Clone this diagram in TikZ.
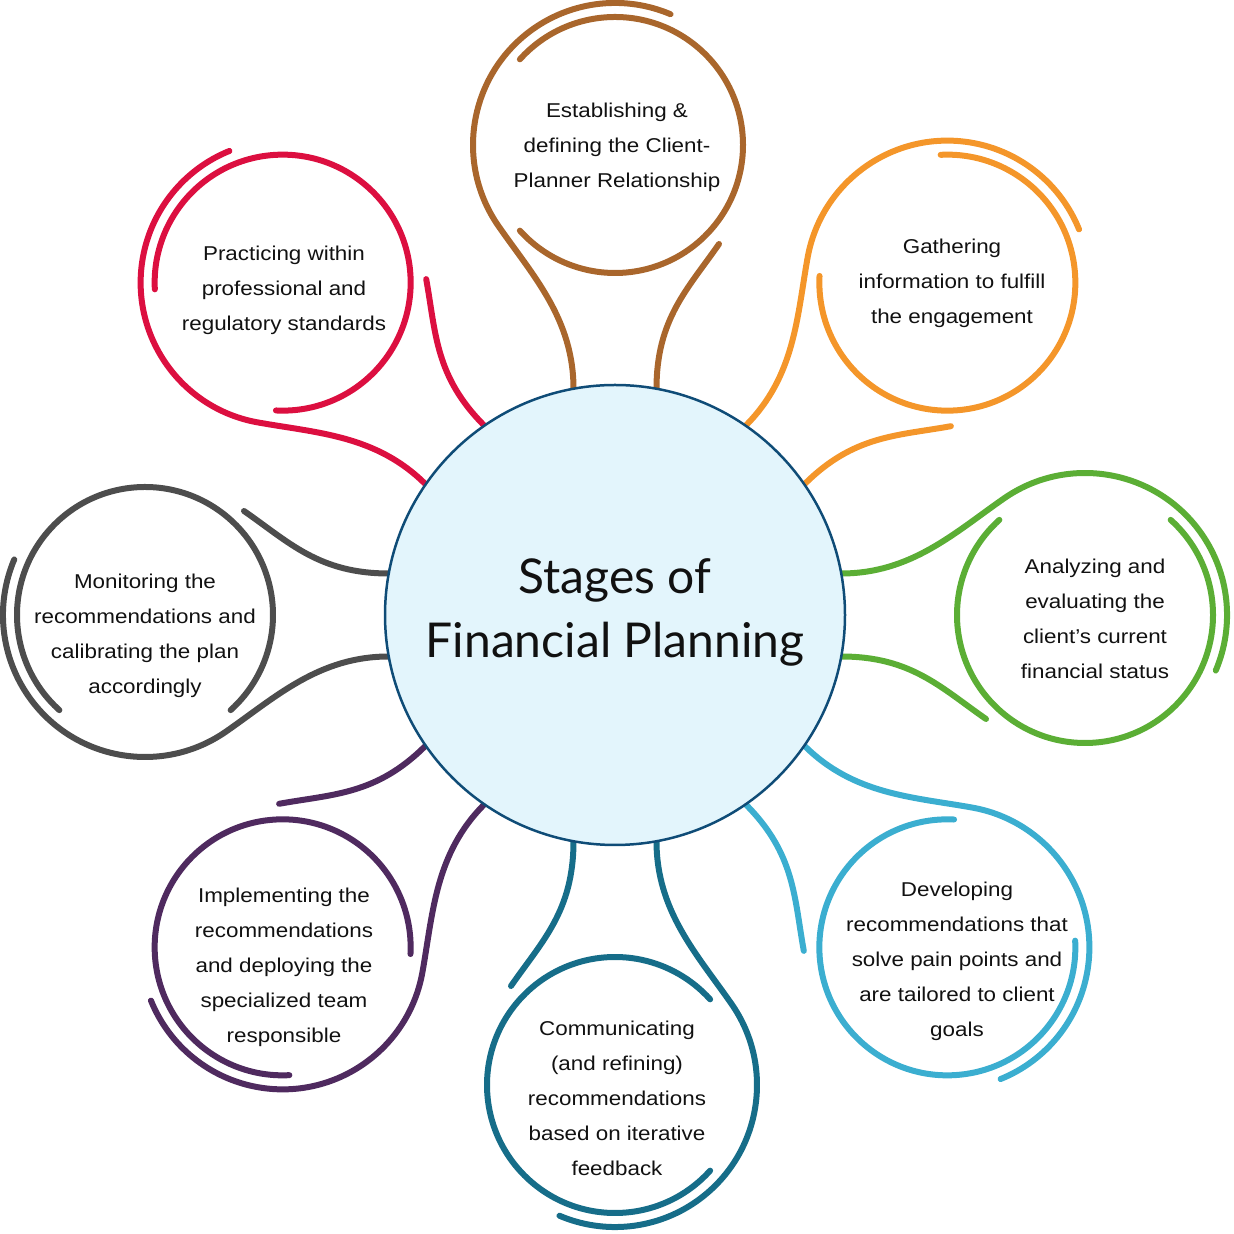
\documentclass[tikz,border=0pt]{standalone}
\usepackage{fontspec}
\setmainfont{Liberation Sans}[FakeStretch=1.12]
\newfontfamily\titlefont{Lato}
\definecolor{cBrown}{HTML}{A9662C}
\definecolor{cOrange}{HTML}{F4962A}
\definecolor{cGreen}{HTML}{5BAE35}
\definecolor{cLight}{HTML}{3BAED0}
\definecolor{cTeal}{HTML}{166D89}
\definecolor{cPurple}{HTML}{4F2A5F}
\definecolor{cGray}{HTML}{4D4D4D}
\definecolor{cCrimson}{HTML}{DC0F40}
\definecolor{cCore}{HTML}{E3F5FC}
\definecolor{cCoreLine}{HTML}{0F4C77}
\definecolor{cInk}{HTML}{111111}
\tikzset{
  petalline/.style={line width=6pt,line cap=round},
  petaltext/.style={align=center,text=cInk,font=\fontsize{20}{35}\selectfont,inner sep=0pt},
  coretext/.style={align=center,text=cInk,font=\titlefont\fontsize{48}{64}\selectfont,inner sep=0pt},
}
\newcommand\petalshape[2]{%
  \begin{scope}[shift={(615,619)},rotate=#1]
    \draw[petalline,#2] (226.2,41.5) .. controls (296,41.5) and (339.4,82.1) .. (388.6,116.3)
      arc[start angle=125,end angle=-23,radius=142];
    \draw[petalline,#2] (470,0) ++(48:128) arc[start angle=48,end angle=-228,radius=128];
    \draw[petalline,#2] (226.2,-41.5) .. controls (296,-41.5) and (325.9,-72.7) .. (371,-104);
  \end{scope}}
\begin{document}
\begin{tikzpicture}[x=1pt,y=1pt]
\useasboundingbox (0,0) rectangle (1234,1234);
\petalshape{90}{cBrown}
\petalshape{45}{cOrange}
\petalshape{0}{cGreen}
\petalshape{-45}{cLight}
\petalshape{-90}{cTeal}
\petalshape{-135}{cPurple}
\petalshape{180}{cGray}
\petalshape{135}{cCrimson}
\node[circle,minimum size=460pt,inner sep=0pt,fill=cCore,draw=cCoreLine,line width=2.5pt] (core) at (615,619) {};
\node[coretext] (title) at (615,622) {Stages of\\Financial Planning};
\node[petaltext] (t1) at (617,1087) {Establishing \&\\defining the Client-\\Planner Relationship};
\node[petaltext] (t2) at (952,951) {Gathering\\information to fulfill\\the engagement};
\node[petaltext] (t3) at (1095,615) {Analyzing and\\evaluating the\\client’s current\\financial status};
\node[petaltext] (t4) at (957,273) {Developing\\recommendations that\\solve pain points and\\are tailored to client\\goals};
\node[petaltext] (t5) at (617,136) {Communicating\\(and refining)\\recommendations\\based on iterative\\feedback};
\node[petaltext] (t6) at (284,267) {Implementing the\\recommendations\\and deploying the\\specialized team\\responsible};
\node[petaltext] (t7) at (145,598) {Monitoring the\\recommendations and\\calibrating the plan\\accordingly};
\node[petaltext] (t8) at (284,944) {Practicing within\\professional and\\regulatory standards};
\end{tikzpicture}
\end{document}
